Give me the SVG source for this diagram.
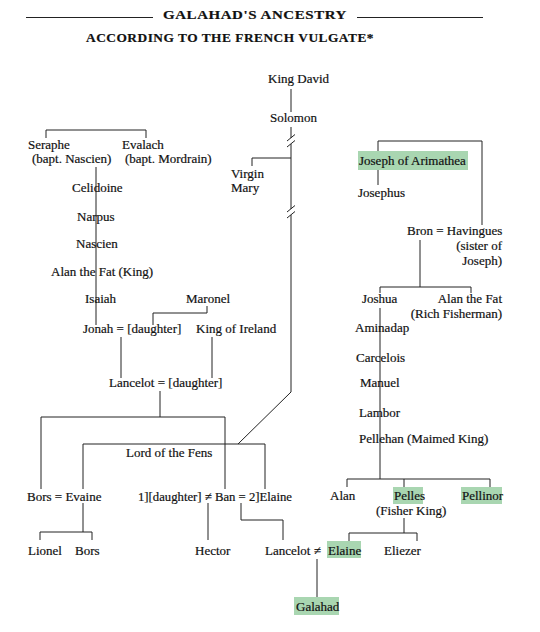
<svg xmlns="http://www.w3.org/2000/svg" width="540" height="632" viewBox="0 0 540 632">
<style>
text{font-family:"Liberation Serif","Times New Roman",serif;font-size:13px;fill:#111;stroke:#111;stroke-width:0.2px}
.t{font-family:"Liberation Serif",serif;font-weight:bold;font-size:13px;letter-spacing:0.5px}
.e{text-anchor:end}
.hl{fill:#a9d6b1}
.c path{fill:none;stroke:#222;stroke-width:1}
.rule{stroke:#222;stroke-width:1}
</style>
<rect width="540" height="632" fill="#fff"/>
<g id="title">
<line class="rule" x1="26" y1="17.5" x2="153" y2="17.5"/>
<line class="rule" x1="357" y1="17.5" x2="483" y2="17.5"/>
<text class="t" x="163" y="19" textLength="184" lengthAdjust="spacingAndGlyphs">GALAHAD'S ANCESTRY</text>
<text class="t" x="86" y="42" textLength="288" lengthAdjust="spacingAndGlyphs">ACCORDING TO THE FRENCH VULGATE*</text>
</g>
<g class="c" id="connectors">
<path d="M291,89V112"/>
<path d="M291,127V138M287,141L295,134.5M287,147L295,140.5M291,144V209M287,212L295,205.5M287,218L295,211.5M291,215V392L238,444"/>
<path d="M252,166V158H291"/>
<path d="M46,138V130H146V138"/>
<path d="M96,167V325"/>
<path d="M207,306V313H153V325"/>
<path d="M121,337V378"/>
<path d="M212,337V378"/>
<path d="M160,391V417"/>
<path d="M41,489V417H225V489"/>
<path d="M83,489V444H265V489"/>
<path d="M83,503V532"/>
<path d="M40,540V532H92V540"/>
<path d="M208,503V540"/>
<path d="M241,503V520H283V540"/>
<path d="M317,559V597"/>
<path d="M378,151V141H482V225"/>
<path d="M378,170V185"/>
<path d="M420,240V287"/>
<path d="M380,293V287H471V293"/>
<path d="M380,308V479"/>
<path d="M347,487V479H490V487"/>
<path d="M404,479V487"/>
<path d="M404,518V533"/>
<path d="M349,541V533H417V541"/>
</g>
<g id="king-david"><text x="268" y="83">King David</text></g>
<g id="solomon"><text x="270" y="122">Solomon</text></g>
<g id="seraphe"><text x="28" y="149">Seraphe</text><text x="32" y="163">(bapt. Nascien)</text></g>
<g id="evalach"><text x="122" y="149">Evalach</text><text x="125" y="163">(bapt. Mordrain)</text></g>
<g id="virgin-mary"><text x="231" y="178">Virgin</text><text x="231" y="192">Mary</text></g>
<g id="joseph-of-arimathea"><rect class="hl" x="358" y="151" width="110" height="19"/><text x="359" y="165">Joseph of Arimathea</text></g>
<g id="josephus"><text x="358" y="197">Josephus</text></g>
<g id="celidoine"><text x="72" y="192">Celidoine</text></g>
<g id="narpus"><text x="77" y="221">Narpus</text></g>
<g id="nascien"><text x="76" y="248">Nascien</text></g>
<g id="alan-the-fat-king"><text x="51" y="276">Alan the Fat (King)</text></g>
<g id="isaiah"><text x="85" y="303">Isaiah</text></g>
<g id="maronel"><text x="186" y="303">Maronel</text></g>
<g id="jonah"><text x="83" y="333">Jonah = [daughter]</text></g>
<g id="king-of-ireland"><text x="196" y="333">King of Ireland</text></g>
<g id="lancelot-daughter"><text x="109" y="387">Lancelot = [daughter]</text></g>
<g id="bron"><text x="407" y="235">Bron = Havingues</text><text class="e" x="502" y="250">(sister of</text><text class="e" x="502" y="265">Joseph)</text></g>
<g id="joshua"><text x="362" y="303">Joshua</text></g>
<g id="alan-the-fat-rich"><text class="e" x="502" y="303">Alan the Fat</text><text class="e" x="502" y="318">(Rich Fisherman)</text></g>
<g id="aminadap"><text x="355" y="332">Aminadap</text></g>
<g id="carcelois"><text x="356" y="362">Carcelois</text></g>
<g id="manuel"><text x="360" y="387">Manuel</text></g>
<g id="lambor"><text x="359" y="417">Lambor</text></g>
<g id="pellehan"><text x="359" y="443">Pellehan (Maimed King)</text></g>
<g id="lord-of-the-fens"><text x="126" y="457">Lord of the Fens</text></g>
<g id="bors-evaine"><text x="27" y="501">Bors = Evaine</text></g>
<g id="ban"><text x="138" y="501" textLength="154" lengthAdjust="spacingAndGlyphs">1][daughter] ≠ Ban = 2]Elaine</text></g>
<g id="alan"><text x="330" y="500">Alan</text></g>
<g id="pelles"><rect class="hl" x="393" y="487" width="30" height="17"/><text x="394" y="500">Pelles</text><text x="376" y="515">(Fisher King)</text></g>
<g id="pellinor"><rect class="hl" x="461" y="487" width="41" height="17"/><text x="462" y="500">Pellinor</text></g>
<g id="lionel"><text x="28" y="555">Lionel</text></g>
<g id="bors"><text x="75" y="555">Bors</text></g>
<g id="hector"><text x="195" y="555">Hector</text></g>
<g id="lancelot"><text x="265" y="555">Lancelot ≠</text></g>
<g id="elaine"><rect class="hl" x="327" y="541" width="34" height="17"/><text x="328" y="555">Elaine</text></g>
<g id="eliezer"><text x="384" y="555">Eliezer</text></g>
<g id="galahad"><rect class="hl" x="294" y="597" width="45" height="18"/><text x="296" y="611">Galahad</text></g>
</svg>
